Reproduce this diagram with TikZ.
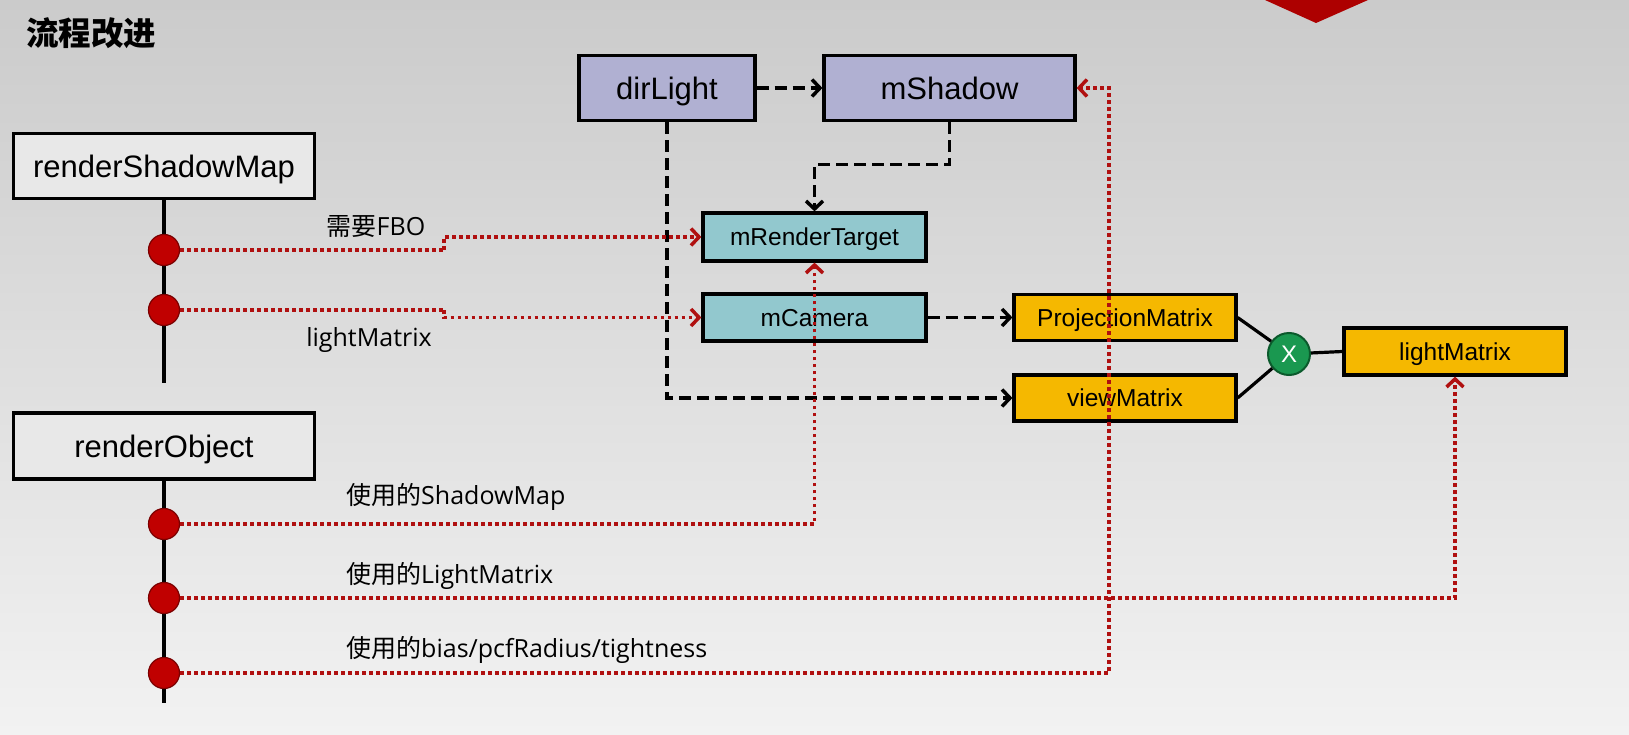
\documentclass[tikz,border=0pt]{standalone}
\usepackage{fontspec}
\setmainfont{Liberation Sans}
\newfontfamily\cjk{Noto Sans CJK SC}
\newfontfamily\lat{Open Sans}
\usetikzlibrary{arrows.meta,calc}
\definecolor{bgtop}{HTML}{CBCBCB}
\definecolor{bgbot}{HTML}{F2F2F2}
\definecolor{boxgray}{HTML}{E8E8E8}
\definecolor{lav}{HTML}{B0B0D2}
\definecolor{tealbox}{HTML}{92C8CE}
\definecolor{gold}{HTML}{F5B800}
\definecolor{grn}{HTML}{1A9850}
\definecolor{grnline}{HTML}{0B5A2C}
\definecolor{dred}{HTML}{B01010}
\definecolor{cred}{HTML}{C00000}
\definecolor{credline}{HTML}{7A0000}
\begin{document}
\begin{tikzpicture}[x=1pt,y=-1pt,
  box/.style={draw=black,line width=3.2pt,inner sep=0pt,align=center},
  bigbox/.style={box,font=\fontsize{31}{36}\selectfont,text height=23.4pt,text depth=1.2pt},
  smallbox/.style={box,font=\fontsize{24.5}{28}\selectfont,text height=18.6pt,text depth=1pt},
  lab/.style={inner sep=0pt,font=\fontsize{25}{30}\selectfont},
  dashconn/.style={line width=3.5pt,dash pattern=on 12pt off 6pt,
    -{Straight Barb[length=8pt,width=17pt]}},
  reddot/.style={draw=dred,line width=3.5pt,dash pattern=on 3.5pt off 3.5pt,
    -{Straight Barb[length=8pt,width=17pt,color=dred]}},
  reddotplain/.style={draw=dred,line width=3.5pt,dash pattern=on 3.5pt off 3.5pt},
  dotc/.style={circle,fill=cred,draw=credline,line width=1.2pt,minimum size=31pt,inner sep=0pt},
  tl/.style={line width=3.2pt,draw=black}]
\useasboundingbox (0,0) rectangle (1629,735);
\shade[top color=bgtop,bottom color=bgbot] (0,0) rectangle (1629,735);
% red chevron at top
\fill[cred!90!black] (1265,0) -- (1368,0) -- (1316,23) -- cycle;
% title
\node[anchor=west,inner sep=0pt,font=\cjk\bfseries\fontsize{32.5}{38}\selectfont] (title) at (26,33) {流程改进};
% left boxes
\node[bigbox,fill=boxgray,minimum width=301pt,minimum height=65pt] (rsm) at (164,166) {renderShadowMap};
\node[bigbox,fill=boxgray,minimum width=301pt,minimum height=66pt] (ro) at (164,446) {renderObject};
% top boxes
\node[bigbox,fill=lav,minimum width=176pt,minimum height=65pt] (dl) at (667,88) {dirLight};
\node[bigbox,fill=lav,minimum width=251pt,minimum height=65pt] (ms) at (949.5,88) {mShadow};
\node[smallbox,fill=tealbox,minimum width=223pt,minimum height=48pt] (mrt) at (814.5,237) {mRenderTarget};
\node[smallbox,fill=tealbox,minimum width=223pt,minimum height=47pt] (mc) at (814.5,317.5) {mCamera};
\node[smallbox,fill=gold,minimum width=222pt,minimum height=46pt] (pm) at (1125,317.5) {ProjectionMatrix};
\node[smallbox,fill=gold,minimum width=222pt,minimum height=46pt] (vm) at (1125,398) {viewMatrix};
\node[smallbox,fill=gold,minimum width=222pt,minimum height=47pt] (lm) at (1455,351.5) {lightMatrix};
\node[circle,fill=grn,draw=grnline,line width=2pt,minimum size=42pt,inner sep=0pt,
  text=white,font=\fontsize{24}{28}\selectfont] (xc) at (1289,354) {X};
\draw[tl] (pm.east) -- (xc);
\draw[tl] (vm.east) -- (xc);
\draw[tl] (xc) -- (lm.west);
% timelines
\coordinate (rsmEnd) at (164,383);
\coordinate (roEnd) at (164,703);
\draw[tl] (rsm.south) -- (rsmEnd);
\draw[tl] (ro.south) -- (roEnd);
\node[dotc] (c1) at (164,250) {};
\node[dotc] (c2) at (164,310) {};
\node[dotc] (c3) at (164,524) {};
\node[dotc] (c4) at (164,598) {};
\node[dotc] (c5) at (164,673) {};
% labels
\node[lab] (l1) at (376,227) {{\cjk 需要}{\lat FBO}};
\node[lab] (l2) at (369,340) {{\lat lightMatrix}};
\node[lab,anchor=west] (l3) at (346,497) {{\cjk 使用的}{\lat ShadowMap}};
\node[lab,anchor=west] (l4) at (346,576) {{\cjk 使用的}{\lat LightMatrix}};
\node[lab,anchor=west] (l5) at (346,650) {{\cjk 使用的}{\lat bias/pcfRadius/tightness}};
% dashed black connectors
\draw[dashconn] (dl) -- (ms);
\draw[dashconn] (ms.south) |- ($(mrt.north)+(0,-47)$) -- (mrt.north);
\draw[dashconn] (dl.south) |- (vm.west);
\draw[dashconn] (mc.east) -- (pm.west);
% red dotted connectors
\coordinate (k1) at (444,250);
\coordinate (k2) at (444,310);
\coordinate (k5) at (1109,88);
\draw[reddotplain] (c1.east) -- (k1);
\draw[reddot] (k1) |- (mrt.west);
\draw[reddotplain] (c2.east) -- (k2);
\draw[reddot] (k2) |- (mc.west);
\draw[reddot] (c3.east) -| (mrt.south);
\draw[reddot] (c4.east) -| (lm.south);
\draw[reddot] (c5.east) -| (k5) -- (ms.east);
\end{tikzpicture}
\end{document}
